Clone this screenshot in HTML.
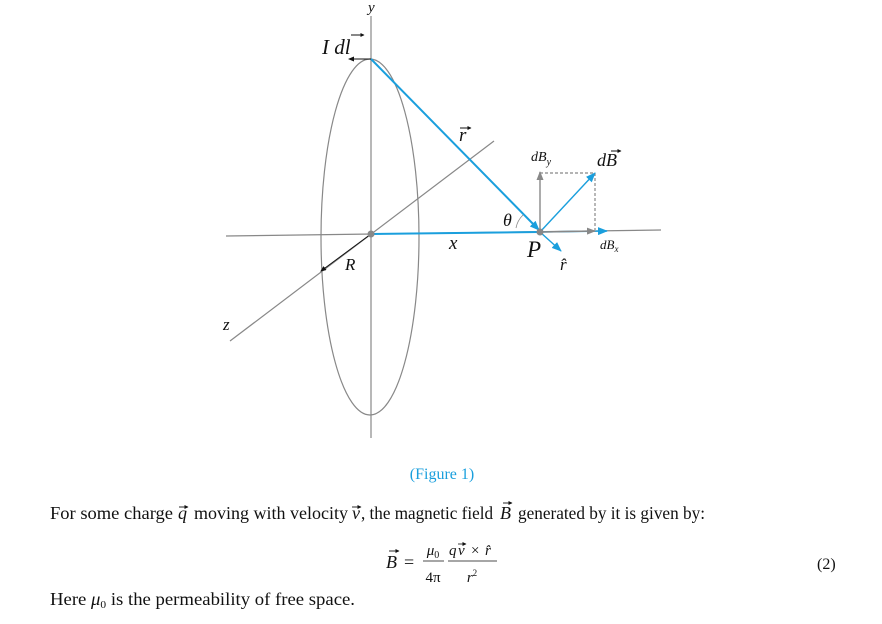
<!DOCTYPE html>
<html><head><meta charset="utf-8"><style>
html,body{margin:0;padding:0;background:#fff;width:882px;height:624px;overflow:hidden}
svg{position:absolute;left:0;top:0}
.t{font-family:"Liberation Serif",serif;fill:#111}
.i{font-style:italic}
</style></head><body>
<svg width="882" height="624">
<defs>
<marker id="ab" markerWidth="10" markerHeight="8" refX="9" refY="4" orient="auto" markerUnits="userSpaceOnUse"><path d="M0,0 L10,4 L0,8 z" fill="#1a9fdd"/></marker>
<marker id="ag" markerWidth="9" markerHeight="7" refX="8" refY="3.5" orient="auto" markerUnits="userSpaceOnUse"><path d="M0,0 L9,3.5 L0,7 z" fill="#888"/></marker>
<marker id="ak" markerWidth="6" markerHeight="5" refX="5" refY="2.5" orient="auto" markerUnits="userSpaceOnUse"><path d="M0,0 L6,2.5 L0,5 z" fill="#111"/></marker>
<marker id="av" markerWidth="4" markerHeight="4" refX="3.5" refY="2" orient="auto" markerUnits="userSpaceOnUse"><path d="M0,0 L4,2 L0,4 z" fill="#111"/></marker>
</defs>
<ellipse cx="370" cy="237" rx="49" ry="178" fill="none" stroke="#888" stroke-width="1.2"/>
<line x1="371" y1="16" x2="371" y2="438" stroke="#888" stroke-width="1.2"/>
<line x1="226" y1="236" x2="661" y2="230" stroke="#888" stroke-width="1.2"/>
<line x1="230" y1="341" x2="494" y2="141" stroke="#888" stroke-width="1.2"/>
<line x1="371" y1="59" x2="539" y2="230" stroke="#1a9fdd" stroke-width="2" marker-end="url(#ab)"/>
<line x1="371" y1="234" x2="540" y2="232" stroke="#1a9fdd" stroke-width="2"/>
<line x1="540" y1="232" x2="607" y2="231" stroke="#1a9fdd" stroke-width="1.4" marker-end="url(#ab)"/>
<line x1="540" y1="232" x2="595" y2="231" stroke="#888" stroke-width="1.4" marker-end="url(#ag)"/>
<line x1="540" y1="232" x2="540" y2="172" stroke="#888" stroke-width="1.4" marker-end="url(#ag)"/>
<path d="M540,173 L595,173 L595,230" fill="none" stroke="#888" stroke-width="1.2" stroke-dasharray="3,2"/>
<line x1="540" y1="232" x2="595" y2="173" stroke="#1a9fdd" stroke-width="1.4" marker-end="url(#ab)"/>
<line x1="540" y1="232" x2="561" y2="251" stroke="#1a9fdd" stroke-width="1.4" marker-end="url(#ab)"/>
<line x1="371" y1="234" x2="321" y2="271" stroke="#111" stroke-width="1" marker-end="url(#ak)"/>
<line x1="371" y1="59" x2="349" y2="59" stroke="#111" stroke-width="1" marker-end="url(#ak)"/>
<path d="M516,228 A24 24 0 0 1 523,215" fill="none" stroke="#888" stroke-width="0.8"/>
<circle cx="371" cy="234" r="3.5" fill="#888"/>
<circle cx="540" cy="232" r="3.5" fill="#888"/>
<text class="t i" x="368" y="12" font-size="15">y</text>
<text class="t i" x="322" y="54" font-size="21">I  dl</text>
<path d="M351,35 h13" stroke="#111" stroke-width="1" marker-end="url(#av)"/>
<text class="t i" x="459" y="141" font-size="19">r</text>
<path d="M460,128 h11" stroke="#111" stroke-width="1" marker-end="url(#av)"/>
<text class="t i" x="503" y="226" font-size="18">θ</text>
<text class="t i" x="449" y="249" font-size="19">x</text>
<text class="t i" x="527" y="257" font-size="23">P</text>
<text class="t i" x="560" y="270" font-size="17">r̂</text>
<text class="t i" x="345" y="270" font-size="17">R</text>
<text class="t i" x="223" y="330" font-size="17">z</text>
<text class="t i" x="531" y="161" font-size="14" fill="#444">dB<tspan font-size="10" dy="4">y</tspan></text>
<text class="t i" x="597" y="166" font-size="18">dB</text>
<path d="M611,151 h10" stroke="#111" stroke-width="1" marker-end="url(#av)"/>
<text class="t i" x="600" y="249" font-size="13" fill="#444">dB<tspan font-size="9" dy="3">x</tspan></text>
<text class="t" x="442" y="479" font-size="16" text-anchor="middle" style="fill:#1a9fdd">(Figure 1)</text>
<g>
<text class="t" x="50" y="519" font-size="18" textLength="123" lengthAdjust="spacingAndGlyphs">For some charge</text>
<text class="t i" x="178" y="519" font-size="18">q</text>
<path d="M179,507 h9" stroke="#111" stroke-width="0.9" marker-end="url(#av)"/>
<text class="t" x="194" y="519" font-size="18" textLength="154" lengthAdjust="spacingAndGlyphs">moving with velocity</text>
<text class="t i" x="352" y="519" font-size="18">v</text>
<path d="M352,507 h9" stroke="#111" stroke-width="0.9" marker-end="url(#av)"/>
<text class="t" x="361" y="519" font-size="18" textLength="132" lengthAdjust="spacingAndGlyphs">, the magnetic field</text>
<text class="t i" x="500" y="519" font-size="18">B</text>
<path d="M503,503 h9" stroke="#111" stroke-width="0.9" marker-end="url(#av)"/>
<text class="t" x="518" y="519" font-size="18" textLength="187" lengthAdjust="spacingAndGlyphs">generated by it is given by:</text>
</g>
<g>
<text class="t i" x="386" y="568" font-size="18">B</text>
<path d="M389,551 h10" stroke="#111" stroke-width="0.9" marker-end="url(#av)"/>
<text class="t" x="404" y="568" font-size="18">=</text>
<text class="t" x="433" y="555" font-size="15" text-anchor="middle"><tspan font-style="italic">μ</tspan><tspan font-size="10" dy="3">0</tspan></text>
<line x1="423" y1="561" x2="444" y2="561" stroke="#111" stroke-width="0.8"/>
<text class="t" x="433" y="582" font-size="15" text-anchor="middle">4π</text>
<text class="t i" x="449" y="555" font-size="15">q</text>
<text class="t i" x="458" y="555" font-size="15">v</text>
<path d="M458,544 h8" stroke="#111" stroke-width="0.8" marker-end="url(#av)"/>
<text class="t" x="471" y="555" font-size="15">×</text>
<text class="t i" x="485" y="555" font-size="15">r̂</text>
<line x1="448" y1="561" x2="497" y2="561" stroke="#111" stroke-width="0.8"/>
<text class="t" x="472" y="582" font-size="15" text-anchor="middle"><tspan font-style="italic">r</tspan><tspan font-size="9" dy="-6">2</tspan></text>
</g>
<text class="t" x="817" y="569" font-size="16">(2)</text>
<text class="t" x="50" y="605" font-size="18" textLength="305" lengthAdjust="spacingAndGlyphs">Here <tspan font-style="italic">μ</tspan><tspan font-size="11" dy="3">0</tspan><tspan dy="-3"> is the permeability of free space.</tspan></text>
</svg>
</body></html>
